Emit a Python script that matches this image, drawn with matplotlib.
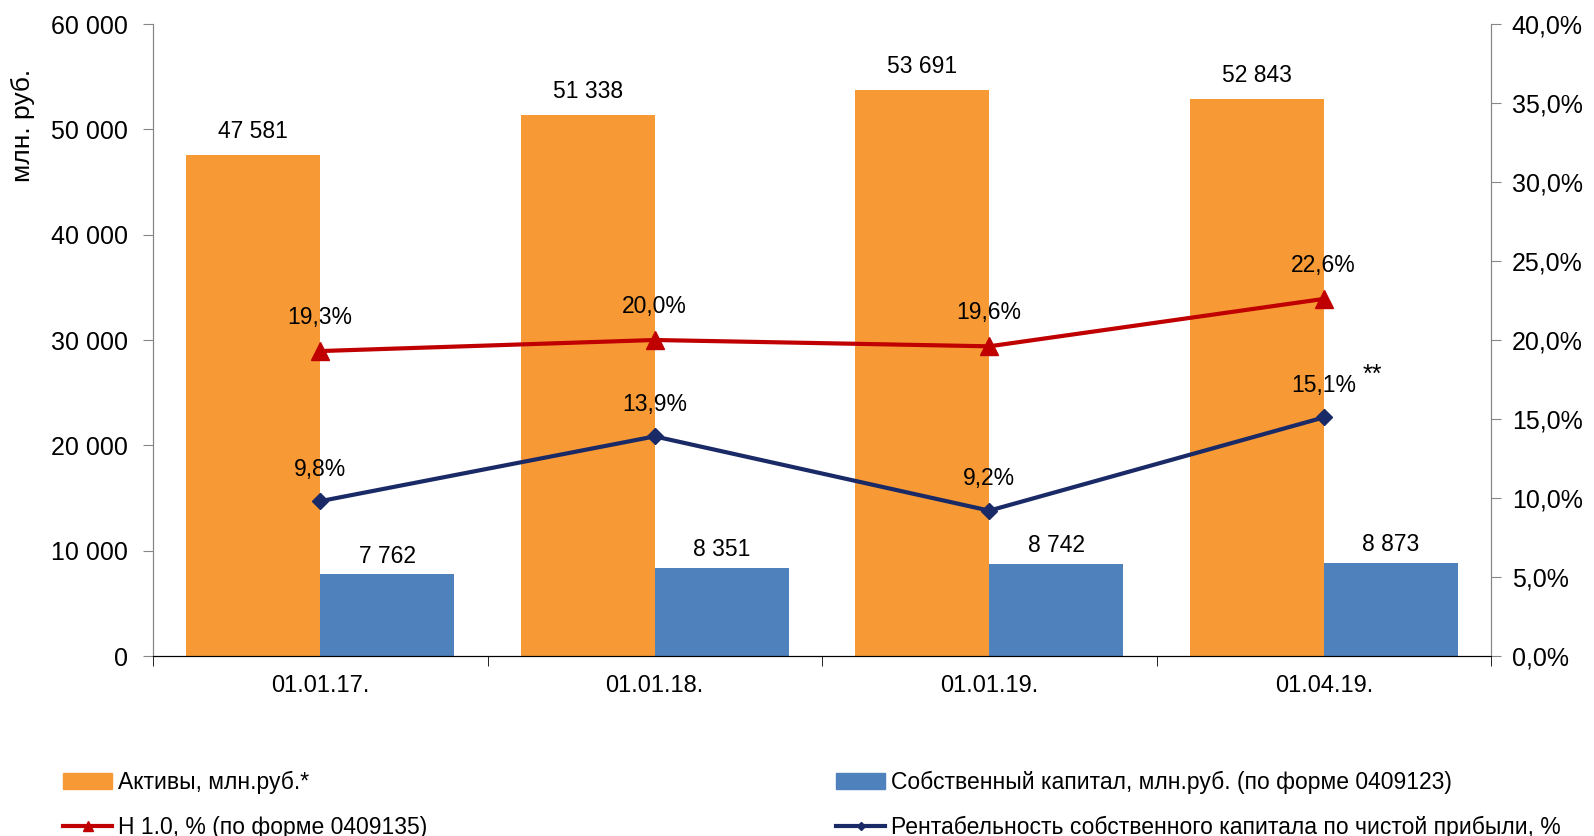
import matplotlib
matplotlib.use("Agg")
import matplotlib.pyplot as plt
from matplotlib.lines import Line2D
from matplotlib.patches import Patch
import numpy as np

categories = ["01.01.17.", "01.01.18.", "01.01.19.", "01.04.19."]
assets = [47581, 51338, 53691, 52843]
equity = [7762, 8351, 8742, 8873]
n10 = [19.3, 20.0, 19.6, 22.6]
roe = [9.8, 13.9, 9.2, 15.1]
left_ticks = [0, 10000, 20000, 30000, 40000, 50000, 60000]
right_ticks = [0, 5, 10, 15, 20, 25, 30, 35, 40]

plt.rcParams['font.family'] = ['Liberation Sans', 'DejaVu Sans']
FS_Y = 18
FS_X = 17
FS_L = 16.5
FS_LEG = 16.5

C_OR = '#F79A36'
C_BL = '#4F81BD'
C_RED = '#C00000'
C_NAVY = '#1A2A66'
C_AX = '#868686'

fig = plt.figure(figsize=(15.94, 8.36), dpi=100)
ax = fig.add_axes([153/1594, 1-656/836, (1491-153)/1594, (656-24)/836])
ax2 = ax.twinx()

x = np.arange(len(categories))
w = 0.4
ax.bar(x - w/2, assets, width=w, color=C_OR, zorder=2)
ax.bar(x + w/2, equity, width=w, color=C_BL, zorder=2)
ax.set_xlim(-0.5, len(categories) - 0.5)
ax.set_ylim(0, 60000)
ax.set_yticks(left_ticks)
ax.set_yticklabels([f"{v:,}".replace(",", " ") for v in left_ticks], fontsize=FS_Y)
ax.set_xticks(x)
ax.set_xticklabels(categories, fontsize=FS_X)
ax.set_xticks(np.arange(-0.5, len(categories)), minor=True)
ax.tick_params(axis='x', which='major', length=0, pad=14)
ax.tick_params(axis='x', which='minor', length=7, direction='out', color='black')
ax.tick_params(axis='y', length=7, color=C_AX, pad=11)

for xi, v in zip(x, assets):
    ax.annotate(f"{v:,}".replace(",", " "), (xi - w/2, v), xytext=(0, 17),
                textcoords='offset points', ha='center', va='center', fontsize=FS_L)
for xi, v in zip(x, equity):
    ax.annotate(f"{v:,}".replace(",", " "), (xi + w/2, v), xytext=(0, 13),
                textcoords='offset points', ha='center', va='center', fontsize=FS_L)

ax2.set_ylim(0, 40)
ax2.set_yticks(right_ticks)
ax2.set_yticklabels([f"{v:.1f}%".replace(".", ",") for v in right_ticks], fontsize=FS_Y)
ax2.tick_params(axis='y', length=7, color=C_AX, pad=8)

ax2.plot(x, n10, color=C_RED, lw=3, marker='^', ms=13, zorder=3)
ax2.plot(x, roe, color=C_NAVY, lw=3, marker='D', ms=8, zorder=3)
for xi, v in zip(x, n10):
    ax2.annotate(f"{v:.1f}%".replace(".", ","), (xi, v), xytext=(0, 24),
                 textcoords='offset points', ha='center', va='center', fontsize=FS_L)
for xi, v in zip(x, roe):
    ax2.annotate(f"{v:.1f}%".replace(".", ","), (xi, v), xytext=(0, 23),
                 textcoords='offset points', ha='center', va='center', fontsize=FS_L)
ax2.annotate("**", (x[-1], roe[-1]), xytext=(35, 31),
             textcoords='offset points', ha='center', va='center', fontsize=18)

for a in (ax, ax2):
    a.spines['top'].set_visible(False)
    a.spines['left'].set_color(C_AX)
    a.spines['right'].set_color(C_AX)
    a.spines['bottom'].set_color('black')
    a.set_facecolor('none')
ax.set_zorder(1)
ax2.set_zorder(2)

fig.text(23/1594, 1-125/836, "млн. руб.", rotation=90, ha='center', va='center', fontsize=19)

h1 = [Patch(color=C_OR, label="Активы, млн.руб.*"),
      Line2D([], [], color=C_RED, lw=3, marker='^', ms=7, label="Н 1.0, % (по форме 0409135)")]
h2 = [Patch(color=C_BL, label="Собственный капитал, млн.руб. (по форме 0409123)"),
      Line2D([], [], color=C_NAVY, lw=3, marker='D', ms=4, label="Рентабельность собственного капитала по чистой прибыли, %")]
for hs, xpos in ((h1, 63), (h2, 836)):
    leg = fig.legend(handles=hs, loc='upper left', bbox_to_anchor=(xpos/1594, 1-771/836),
                     frameon=False, fontsize=FS_LEG, handlelength=2.14, handletextpad=0.26,
                     labelspacing=0.95, borderaxespad=0, borderpad=0)

fig.savefig("out.png", dpi=100)
